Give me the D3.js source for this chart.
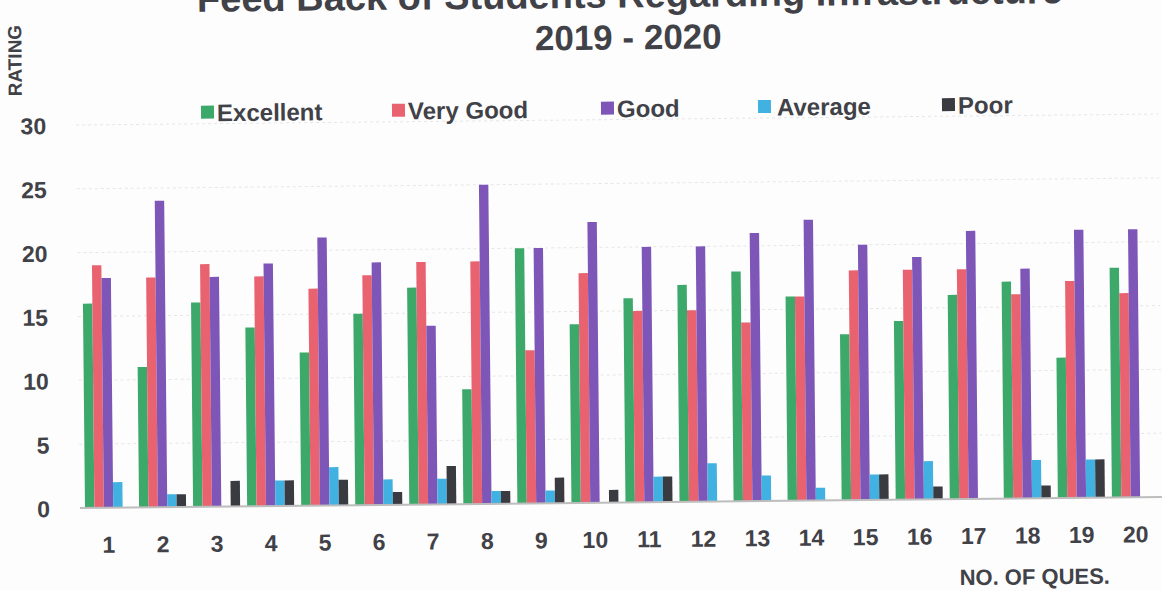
<!DOCTYPE html>
<html>
<head>
<meta charset="utf-8">
<script src="https://cdn.jsdelivr.net/npm/d3@7/dist/d3.min.js"></script>
<style>
  html, body { margin: 0; padding: 0; background: #fdfdfd; }
  svg { display: block; }
  text { font-family: "Liberation Sans", Arial, sans-serif; font-weight: bold; fill: #414148; }
</style>
</head>
<body>
<svg id="chart" width="1162" height="591"></svg>
<script>
const questions = ["1","2","3","4","5","6","7","8","9","10","11","12","13","14","15","16","17","18","19","20"];
const seriesNames = ["Excellent", "Very Good", "Good", "Average", "Poor"];
const excellent = [16, 11, 16, 14, 12, 15, 17, 9, 20, 14, 16, 17, 18, 16, 13, 14, 16, 17, 11, 18];
const veryGood  = [19, 18, 19, 18, 17, 18, 19, 19, 12, 18, 15, 15, 14, 16, 18, 18, 18, 16, 17, 16];
const good      = [18, 24, 18, 19, 21, 19, 14, 25, 20, 22, 20, 20, 21, 22, 20, 19, 21, 18, 21, 21];
const average   = [2, 1, 0, 2, 3, 2, 2, 1, 1, 0, 2, 3, 2, 1, 2, 3, 0, 3, 3, 0];
const poor      = [0, 1, 2, 2, 2, 1, 3, 1, 2, 1, 2, 0, 0, 0, 2, 1, 0, 1, 3, 0];
const yTicks = [0, 5, 10, 15, 20, 25, 30];
const colors = ["#3ca96a", "#e8636f", "#7d56b7", "#41b1e1", "#3a3a41"];
const titleLine1 = "Feed Back of Students Regarding Infrastructure";
const titleLine2 = "2019 - 2020";
const yTitle = "RATING";
const xTitle = "NO. OF QUES.";

const seriesValues = [excellent, veryGood, good, average, poor];

const svg = d3.select("#chart");
// scanned page is slightly tilted
const g = svg.append("g").attr("transform", "rotate(-0.58, 80, 508)");

const x0 = d3.scaleBand().domain(questions).range([81.5, 1162.5]).paddingInner(0.13).paddingOuter(0.065);
const x1 = d3.scaleBand().domain(seriesNames).range([0, x0.bandwidth()]);
const y = d3.scaleLinear().domain([0, 30]).range([508, 125]);

// gridlines
g.append("g").selectAll("line").data(yTicks.filter(d => d > 0)).join("line")
  .attr("x1", 80).attr("x2", 1162)
  .attr("y1", d => y(d)).attr("y2", d => y(d))
  .attr("stroke", "#e6e6e6").attr("stroke-width", 1).attr("stroke-dasharray", "3,3");

// y axis labels
const yAxis = d3.axisLeft(y).tickValues(yTicks).tickSize(0).tickPadding(0);
const yg = g.append("g").attr("transform", "translate(50,0)").call(yAxis);
yg.select(".domain").remove();
yg.selectAll("text").style("font-size", "23px").style("fill", "#414148")
  .attr("font-family", null).attr("dy", "0.36em");

// bars
const groups = g.append("g").selectAll("g").data(questions).join("g")
  .attr("transform", d => `translate(${x0(d)},0)`);
groups.selectAll("rect")
  .data((q, qi) => seriesNames.map((s, si) => ({ s, si, v: seriesValues[si][qi] })))
  .join("rect")
  .attr("x", d => x1(d.s))
  .attr("width", x1.bandwidth())
  .attr("y", d => y(d.v))
  .attr("height", d => y(0) - y(d.v))
  .attr("fill", d => colors[d.si]);

// x axis
const xAxis = d3.axisBottom(x0).tickSize(0).tickPadding(0);
const xg = g.append("g").attr("transform", "translate(0,508)").call(xAxis);
xg.select(".domain").attr("d", "M80,0H1162").attr("stroke", "#bdbdbd").attr("stroke-width", 2);
xg.selectAll("text").style("font-size", "23px").style("fill", "#414148")
  .attr("font-family", null).attr("y", 45).attr("dy", 0);

// titles
g.append("text").attr("x", 635).attr("y", 13).attr("text-anchor", "middle")
  .style("font-size", "38px").text(titleLine1);
g.append("text").attr("x", 633).attr("y", 55).attr("text-anchor", "middle")
  .style("font-size", "35px").text(titleLine2);

g.append("text").attr("transform", "translate(26,60) rotate(-90)").attr("text-anchor", "middle")
  .style("font-size", "19px").text(yTitle);
g.append("text").attr("x", 1034).attr("y", 594).attr("text-anchor", "middle")
  .style("font-size", "22px").text(xTitle);

// legend
const legendX = [205, 396, 605, 762, 946];
const lg = g.append("g").selectAll("g").data(seriesNames).join("g")
  .attr("transform", (d, i) => `translate(${legendX[i]},114)`);
lg.append("rect").attr("x", 0).attr("y", -7).attr("width", 13).attr("height", 13)
  .attr("fill", (d, i) => colors[i]);
lg.append("text").attr("x", (d, i) => i === 3 ? 19 : 16).attr("y", 0).attr("dy", "0.36em")
  .style("font-size", "24px").text(d => d);
</script>
</body>
</html>
